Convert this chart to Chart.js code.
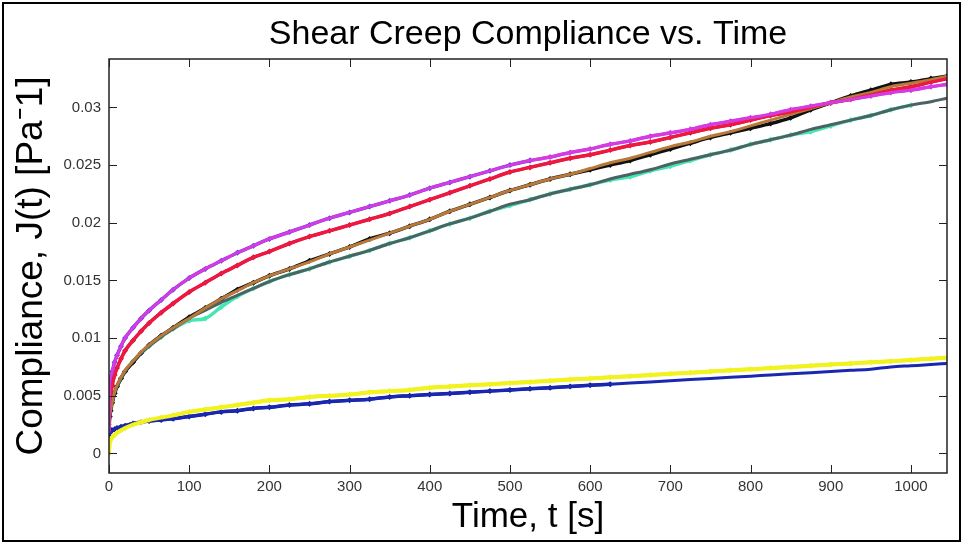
<!DOCTYPE html>
<html>
<head>
<meta charset="utf-8">
<script src="https://cdn.jsdelivr.net/npm/chart.js@4.4.0/dist/chart.umd.min.js"></script>
<style>
  html, body { margin: 0; padding: 0; background: #fff; }
  #wrap { width: 963px; height: 544px; }
</style>
</head>
<body>
<div id="wrap"><canvas id="myChart" width="963" height="544"></canvas></div>
<script>
// time grid in seconds
var times = [0, 1, 2, 4, 7, 10, 15, 20, 30, 40, 50, 65, 80, 100, 120, 140, 160, 180, 200,
  225, 250, 275, 300, 325, 350, 375, 400, 425, 450, 475, 500, 525, 550, 575, 600, 625, 650,
  675, 700, 725, 750, 775, 800, 825, 850, 875, 900, 925, 950, 975, 1000, 1025, 1045];

// compliance J(t) [1/Pa]
var violet = [0.0018, 0.0062, 0.0066, 0.0071, 0.0079, 0.0085, 0.0093, 0.0100, 0.0109, 0.0117, 0.0124, 0.0133, 0.0142, 0.0152, 0.0160, 0.0167, 0.0174, 0.0180, 0.0186,
  0.0192, 0.0198, 0.0204, 0.0209, 0.0214, 0.0219, 0.0224, 0.0230, 0.0235, 0.0240, 0.0245, 0.0250, 0.0254, 0.0257, 0.0261, 0.0264, 0.0268, 0.0271,
  0.0275, 0.0278, 0.0281, 0.0285, 0.0288, 0.0291, 0.0294, 0.0298, 0.0301, 0.0304, 0.0307, 0.0310, 0.0313, 0.0315, 0.0318, 0.0320];
var red = [0.0020, 0.0045, 0.0050, 0.0059, 0.0068, 0.0074, 0.0082, 0.0089, 0.0098, 0.0106, 0.0113, 0.0122, 0.0130, 0.0140, 0.0148, 0.0156, 0.0163, 0.0170, 0.0175,
  0.0182, 0.0188, 0.0193, 0.0198, 0.0203, 0.0208, 0.0214, 0.0220, 0.0226, 0.0232, 0.0238, 0.0244, 0.0248, 0.0252, 0.0256, 0.0259, 0.0263, 0.0267,
  0.0270, 0.0274, 0.0278, 0.0282, 0.0285, 0.0289, 0.0293, 0.0296, 0.0300, 0.0304, 0.0307, 0.0311, 0.0315, 0.0318, 0.0322, 0.0325];
var brown = [0.0022, 0.0032, 0.0037, 0.0044, 0.0053, 0.0059, 0.0066, 0.0072, 0.0080, 0.0088, 0.0094, 0.0102, 0.0109, 0.0117, 0.0126, 0.0134, 0.0141, 0.0148, 0.0154,
  0.0160, 0.0166, 0.0173, 0.0179, 0.0185, 0.0191, 0.0197, 0.0203, 0.0210, 0.0216, 0.0222, 0.0228, 0.0233, 0.0238, 0.0242, 0.0247, 0.0252, 0.0256,
  0.0261, 0.0266, 0.0270, 0.0275, 0.0279, 0.0284, 0.0289, 0.0294, 0.0299, 0.0304, 0.0309, 0.0313, 0.0318, 0.0321, 0.0324, 0.0327];
var black = [0.0022, 0.0032, 0.0037, 0.0044, 0.0052, 0.0058, 0.0065, 0.0071, 0.0079, 0.0087, 0.0094, 0.0102, 0.0109, 0.0118, 0.0126, 0.0134, 0.0142, 0.0148, 0.0154,
  0.0160, 0.0167, 0.0173, 0.0179, 0.0186, 0.0191, 0.0197, 0.0203, 0.0210, 0.0216, 0.0222, 0.0228, 0.0233, 0.0238, 0.0242, 0.0246, 0.0250, 0.0254,
  0.0259, 0.0264, 0.0269, 0.0274, 0.0278, 0.0282, 0.0286, 0.0291, 0.0298, 0.0304, 0.0310, 0.0315, 0.0320, 0.0322, 0.0325, 0.0327];
var gray = [0.0025, 0.0036, 0.0040, 0.0046, 0.0053, 0.0058, 0.0065, 0.0071, 0.0080, 0.0087, 0.0093, 0.0101, 0.0108, 0.0117, 0.0124, 0.0131, 0.0137, 0.0143, 0.0149,
  0.0155, 0.0160, 0.0166, 0.0171, 0.0176, 0.0182, 0.0187, 0.0193, 0.0199, 0.0204, 0.0210, 0.0216, 0.0220, 0.0225, 0.0229, 0.0233, 0.0238, 0.0242,
  0.0246, 0.0251, 0.0255, 0.0259, 0.0263, 0.0268, 0.0272, 0.0276, 0.0281, 0.0285, 0.0289, 0.0293, 0.0298, 0.0302, 0.0305, 0.0308];
var cyan = [0.0025, 0.0036, 0.0040, 0.0046, 0.0053, 0.0058, 0.0065, 0.0071, 0.0080, 0.0087, 0.0093, 0.0101, 0.0108, 0.0115, 0.0117, 0.0127, 0.0136, 0.0143, 0.0149,
  0.0155, 0.0160, 0.0166, 0.0171, 0.0176, 0.0182, 0.0187, 0.0193, 0.0199, 0.0204, 0.0210, 0.0215, 0.0220, 0.0225, 0.0229, 0.0233, 0.0237, 0.0240,
  0.0245, 0.0249, 0.0254, 0.0259, 0.0263, 0.0268, 0.0272, 0.0276, 0.0279, 0.0284, 0.0289, 0.0293, 0.0298, 0.0302, 0.0305, 0.0308];
var yellow = [0.0000, 0.0010, 0.0012, 0.0014, 0.0016, 0.0018, 0.0020, 0.0022, 0.0025, 0.0027, 0.0029, 0.0031, 0.0033, 0.0036, 0.0038, 0.0040, 0.0042, 0.0044, 0.0046,
  0.0047, 0.0049, 0.0050, 0.0051, 0.0053, 0.0054, 0.0055, 0.0057, 0.0058, 0.0059, 0.0060, 0.0061, 0.0062, 0.0063, 0.0064, 0.0065, 0.0066, 0.0067,
  0.0068, 0.0069, 0.0070, 0.0071, 0.0072, 0.0073, 0.0074, 0.0075, 0.0076, 0.0077, 0.0078, 0.0079, 0.0080, 0.0081, 0.0082, 0.0083];
var navy = [0.0015, 0.0018, 0.0019, 0.0020, 0.0021, 0.0022, 0.0023, 0.0024, 0.0026, 0.0027, 0.0028, 0.0029, 0.0030, 0.0032, 0.0034, 0.0036, 0.0037, 0.0039, 0.0040,
  0.0042, 0.0043, 0.0045, 0.0046, 0.0047, 0.0049, 0.0050, 0.0051, 0.0052, 0.0053, 0.0054, 0.0055, 0.0056, 0.0057, 0.0058, 0.0059, 0.0060, 0.0061,
  0.0062, 0.0063, 0.0064, 0.0065, 0.0066, 0.0067, 0.0068, 0.0069, 0.0070, 0.0071, 0.0072, 0.0073, 0.0075, 0.0076, 0.0077, 0.0078];

var xTicks = [0, 100, 200, 300, 400, 500, 600, 700, 800, 900, 1000];
var yTicks = [0, 0.005, 0.01, 0.015, 0.02, 0.025, 0.03];
var yTickLabels = ['0', '0.005', '0.01', '0.015', '0.02', '0.025', '0.03'];

function pts(vals, tFrom, tTo) {
  var out = [];
  times.forEach(function(t, i) {
    if (t >= tFrom && t <= tTo) out.push({x: t, y: vals[i]});
  });
  return out;
}

function fit(vals, color, w) {
  return {
    data: pts(vals, 0, 1045),
    borderColor: color,
    borderWidth: w || 3,
    pointRadius: 0,
    cubicInterpolationMode: 'monotone',
    order: 1
  };
}

function meas(vals, color, tFrom, tTo) {
  return {
    data: pts(vals, tFrom, tTo),
    borderColor: color,
    backgroundColor: color,
    borderWidth: 3.5,
    pointRadius: 3,
    pointStyle: 'rectRot',
    pointBorderWidth: 0,
    cubicInterpolationMode: 'monotone',
    order: 2
  };
}

// white background, inward ticks on all four sides, box and outer frame
const frame = {
  id: 'frame',
  beforeDraw(chart) {
    const c = chart.ctx;
    c.save();
    c.fillStyle = '#fff';
    c.fillRect(0, 0, chart.width, chart.height);
    c.restore();
  },
  afterDraw(chart) {
    const c = chart.ctx, a = chart.chartArea;
    const xs = chart.scales.x, ys = chart.scales.y;
    c.save();
    c.strokeStyle = '#222';
    c.lineWidth = 1.5;
    c.strokeRect(a.left, a.top, a.right - a.left, a.bottom - a.top);
    c.beginPath();
    xs.ticks.forEach(function(t) {
      const px = Math.round(xs.getPixelForValue(t.value)) + 0.5;
      c.moveTo(px, a.bottom); c.lineTo(px, a.bottom - 8);
      c.moveTo(px, a.top); c.lineTo(px, a.top + 8);
    });
    ys.ticks.forEach(function(t) {
      const py = Math.round(ys.getPixelForValue(t.value)) + 0.5;
      c.moveTo(a.left, py); c.lineTo(a.left + 8, py);
      c.moveTo(a.right, py); c.lineTo(a.right - 8, py);
    });
    c.lineWidth = 1;
    c.stroke();
    c.strokeStyle = '#000';
    c.lineWidth = 2;
    c.strokeRect(3, 3, chart.width - 6, chart.height - 6);
    c.restore();
  }
};

const ctx = document.getElementById('myChart');
new Chart(ctx, {
  type: 'line',
  data: {
    datasets: [
      fit(violet, '#d63ae0'),
      fit(red, '#f0183e'),
      fit(brown, '#b8793a'),
      fit(gray, '#4d6262'),
      fit(yellow, '#f2f21c', 4),
      fit(navy, '#1a28b0'),
      meas(violet, '#5b3de6', 0, 525),
      meas(violet, '#c83ae8', 525, 1045),
      meas(red, '#cc1648', 0, 1045),
      meas(black, '#111111', 0, 1045),
      meas(cyan, '#45e6b4', 0, 1000),
      meas(yellow, '#dcf23a', 0, 1045),
      meas(navy, '#0c169e', 0, 625)
    ]
  },
  options: {
    responsive: false,
    animation: false,
    layout: { padding: { left: 0, right: 16, top: 0, bottom: 0 } },
    plugins: {
      legend: { display: false },
      tooltip: { enabled: false },
      title: {
        display: true,
        fullSize: false,
        text: 'Shear Creep Compliance vs. Time',
        color: '#000',
        font: { family: 'Liberation Sans, Arial, sans-serif', size: 34, weight: 'normal', lineHeight: 1.2 },
        padding: { top: 14, bottom: 4.2 }
      }
    },
    scales: {
      x: {
        type: 'linear',
        min: 0,
        max: 1045,
        grid: { display: false, drawTicks: false },
        border: { display: false },
        afterBuildTicks: function(scale) {
          scale.ticks = xTicks.map(function(v) { return {value: v}; });
        },
        afterFit: function(scale) { scale.height = 71; },
        ticks: {
          padding: 5,
          color: '#333',
          font: { family: 'Liberation Sans, Arial, sans-serif', size: 15 },
          maxRotation: 0,
          callback: function(v) { return String(v); }
        },
        title: {
          display: true,
          text: 'Time, t [s]',
          color: '#000',
          font: { family: 'Liberation Sans, Arial, sans-serif', size: 35, lineHeight: 1.2 },
          padding: { top: 0, bottom: 6 }
        }
      },
      y: {
        type: 'linear',
        min: -0.0017,
        max: 0.0342,
        grid: { display: false, drawTicks: false },
        border: { display: false },
        afterBuildTicks: function(scale) {
          scale.ticks = yTicks.map(function(v) { return {value: v}; });
        },
        afterFit: function(scale) { scale.width = 109; },
        ticks: {
          padding: 8,
          color: '#333',
          font: { family: 'Liberation Sans, Arial, sans-serif', size: 15 },
          callback: function(v) {
            var i = yTicks.indexOf(v);
            return i >= 0 ? yTickLabels[i] : '';
          }
        },
        title: {
          display: true,
          text: 'Compliance, J(t) [Pa\u207B1]',
          color: '#000',
          font: { family: 'Liberation Sans, Arial, sans-serif', size: 37, lineHeight: 1.2 },
          padding: { top: 10, bottom: 0 }
        }
      }
    }
  },
  plugins: [frame]
});
</script>
</body>
</html>
